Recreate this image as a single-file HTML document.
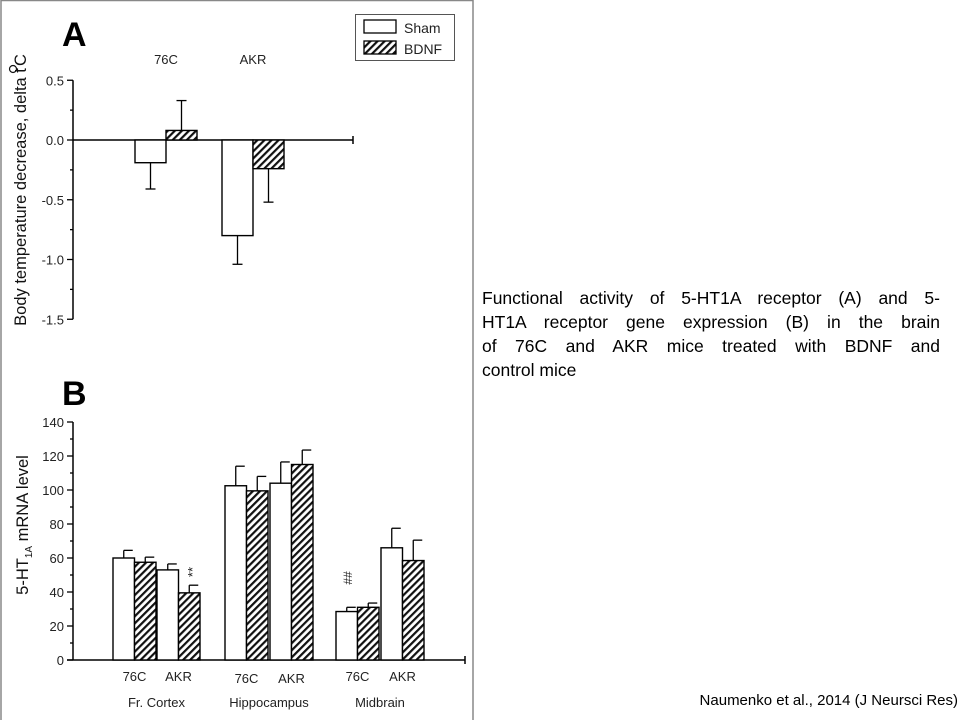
<!DOCTYPE html>
<html><head><meta charset="utf-8">
<style>
body{margin:0;width:960px;height:720px;background:#fff;overflow:hidden;font-family:"Liberation Sans",Arial,sans-serif;position:relative}
.cap{position:absolute;left:482px;width:458px;font-size:17.5px;line-height:24px;color:#000}
.cap div{text-align:justify;text-align-last:justify;white-space:nowrap}
.cap div.last{text-align-last:left}
.cite{position:absolute;right:2px;top:692px;font-size:15px;color:#000}
</style></head><body>
<svg width="960" height="720" style="position:absolute;left:0;top:0" font-family="Liberation Sans, Arial, sans-serif">
<defs>
<pattern id="hatch" patternUnits="userSpaceOnUse" width="5" height="5" patternTransform="rotate(45)">
<rect width="5" height="5" fill="#fff"/><rect width="2.2" height="5" fill="#111"/>
</pattern>
</defs>
<rect x="1" y="0.5" width="472" height="730" fill="none" stroke="#888" stroke-width="1.5"/>
<g id="chartA"></g>
<g id="chartB"></g>
</svg>
<div class="cap" style="top:286px">
<div>Functional activity of 5-HT1A receptor (A) and 5-</div>
<div>HT1A receptor gene expression (B) in the brain</div>
<div>of 76C and AKR mice treated with BDNF and</div>
<div class="last">control mice</div>
</div>
<div class="cite">Naumenko et al., 2014 (J Neursci Res)</div>
<script>
// Chart A data
const aCategories = ["76C", "AKR"];
const aSham = [-0.19, -0.80];
const aShamErr = [0.22, 0.24];
const aBdnf = [0.08, -0.24];
const aBdnfErr = [0.25, 0.28];
const aTicks = [0.5, 0.0, -0.5, -1.0, -1.5];
const aTickLabels = ["0.5", "0.0", "-0.5", "-1.0", "-1.5"];
// Chart B data
const bStrains = ["76C", "AKR", "76C", "AKR", "76C", "AKR"];
const bRegions = ["Fr. Cortex", "Hippocampus", "Midbrain"];
const bSham = [60, 53, 102.5, 104, 28.5, 66];
const bShamErr = [4.5, 3.5, 11.5, 12.5, 2.5, 11.5];
const bBdnf = [57.5, 39.5, 99.5, 115, 31, 58.5];
const bBdnfErr = [3, 4.5, 8.5, 8.5, 2.5, 12];
const bTicks = [0, 20, 40, 60, 80, 100, 120, 140];

const NS = "http://www.w3.org/2000/svg";
function mk(parent, tag, attrs, text){
  const e = document.createElementNS(NS, tag);
  for (const k in attrs) e.setAttribute(k, attrs[k]);
  if (text !== undefined) e.textContent = text;
  parent.appendChild(e); return e;
}
// ---- Chart A ----
(function(){
  const g = document.getElementById("chartA");
  const yA = v => 140 - v * 119.5;
  const x0 = 73;
  let t = mk(g, "text", {x:62, y:46, "font-size":34, "font-weight":"bold"}, "A");
  
  
  // axes
  let ax = mk(g, "line", {x1:x0, y1:yA(0.5), x2:x0, y2:yA(-1.5), stroke:"#000", "stroke-width":1.5});
  
  
  let xx = mk(g, "line", {x1:x0, y1:yA(0), x2:353, y2:yA(0), stroke:"#000", "stroke-width":1.5});
  
  
  mk(g, "line", {x1:353, y1:yA(0)-4, x2:353, y2:yA(0)+4, stroke:"#000", "stroke-width":1.5});
  for (let v = 0.5; v >= -1.5001; v -= 0.25) {
    const major = Math.abs(Math.round(v*2) - v*2) < 1e-6;
    mk(g, "line", {x1:x0-(major?6:3), y1:yA(v), x2:x0, y2:yA(v), stroke:"#000", "stroke-width":1.3});
  }
  aTicks.forEach((v,i)=>{
    const l = mk(g, "text", {x:x0-9, y:yA(v)+5, "font-size":13, "text-anchor":"end", fill:"#222"}, aTickLabels[i]);
    
    
  });
  const yt = mk(g, "text", {x:0, y:0, "font-size":16.5, "text-anchor":"middle", fill:"#111", transform:"translate(26,197) rotate(-90)"}, "Body temperature decrease, delta t");
  
  
  mk(g, "text", {x:0, y:0, "font-size":16.5, "text-anchor":"middle", fill:"#111", transform:"translate(26,60) rotate(-90)"}, "C");
  mk(g, "circle", {cx:13, cy:69, r:3.5, fill:"none", stroke:"#111", "stroke-width":1.2});
  const groupX = [135, 222];
  const bw = 31;
  aCategories.forEach((c,i)=>{
    const gx = groupX[i];
    const lab = mk(g, "text", {x:gx+bw, y:64, "font-size":13, "text-anchor":"middle", fill:"#222"}, c);
    
    
    [[aSham[i], aShamErr[i], "#fff", gx, "sham"], [aBdnf[i], aBdnfErr[i], "url(#hatch)", gx+bw, "bdnf"]].forEach(([v,e,f,x,nm])=>{
      const top = Math.min(yA(v), yA(0)), h = Math.abs(yA(v)-yA(0));
      const b = mk(g, "rect", {x:x, y:top, width:bw, height:h, fill:f, stroke:"#000", "stroke-width":1.4});
      
      
      const ye = yA(v + (v >= 0 ? e : -e));
      const cx = x + bw/2;
      mk(g, "line", {x1:cx, y1:yA(v), x2:cx, y2:ye, stroke:"#000", "stroke-width":1.3});
      mk(g, "line", {x1:cx-5, y1:ye, x2:cx+5, y2:ye, stroke:"#000", "stroke-width":1.3});
    });
  });
  // legend
  const lg = mk(g, "g", {});
  
  
  mk(lg, "rect", {x:355.5, y:14.5, width:99, height:46, fill:"#fff", stroke:"#555", "stroke-width":1});
  mk(lg, "rect", {x:364, y:20, width:32, height:13, fill:"#fff", stroke:"#000", "stroke-width":1.3});
  mk(lg, "rect", {x:364, y:41, width:32, height:13, fill:"url(#hatch)", stroke:"#000", "stroke-width":1.3});
  mk(lg, "text", {x:404, y:33, "font-size":14, fill:"#222"}, "Sham");
  mk(lg, "text", {x:404, y:54, "font-size":14, fill:"#222"}, "BDNF");
})();
// ---- Chart B ----
(function(){
  const g = document.getElementById("chartB");
  const yB = v => 660 - v * 1.7;
  const x0 = 73;
  let t = mk(g, "text", {x:62, y:405, "font-size":34, "font-weight":"bold"}, "B");
  
  
  let ax = mk(g, "line", {x1:x0, y1:yB(0), x2:x0, y2:yB(140), stroke:"#000", "stroke-width":1.5});
  
  
  let xx = mk(g, "line", {x1:x0-6, y1:yB(0), x2:465, y2:yB(0), stroke:"#000", "stroke-width":1.5});
  
  
  mk(g, "line", {x1:465, y1:yB(0)-4, x2:465, y2:yB(0)+4, stroke:"#000", "stroke-width":1.5});
  for (let v = 0; v <= 140; v += 10) {
    const major = v % 20 === 0;
    mk(g, "line", {x1:x0-(major?6:3), y1:yB(v), x2:x0, y2:yB(v), stroke:"#000", "stroke-width":1.3});
  }
  bTicks.forEach(v=>{
    const l = mk(g, "text", {x:x0-9, y:yB(v)+5, "font-size":13, "text-anchor":"end", fill:"#222"}, String(v));
    
    
  });
  const yt = mk(g, "text", {x:0, y:0, "font-size":16.5, "text-anchor":"middle", fill:"#111", transform:"translate(28,525) rotate(-90)"});
  
  
  yt.innerHTML = '5-HT<tspan font-size="10" dy="4">1A</tspan><tspan dy="-4"> mRNA level</tspan>';
  const pairX = [113, 157, 225, 270, 336, 381];
  const bw = 21.5;
  bStrains.forEach((s,i)=>{
    const px = pairX[i];
    const lab = mk(g, "text", {x:px+bw, y:[681,681,683,683,681,681][i], "font-size":13, "text-anchor":"middle", fill:"#222"}, s);
    
    
    [[bSham[i], bShamErr[i], "#fff", px, "sham"], [bBdnf[i], bBdnfErr[i], "url(#hatch)", px+bw, "bdnf"]].forEach(([v,e,f,x,nm])=>{
      const b = mk(g, "rect", {x:x, y:yB(v), width:bw, height:yB(0)-yB(v), fill:f, stroke:"#000", "stroke-width":1.4});
      
      
      const cx = x + bw/2, ye = yB(v+e);
      mk(g, "line", {x1:cx, y1:yB(v), x2:cx, y2:ye, stroke:"#000", "stroke-width":1.3});
      mk(g, "line", {x1:cx, y1:ye, x2:cx+9, y2:ye, stroke:"#000", "stroke-width":1.3});
    });
  });
  bRegions.forEach((r,i)=>{
    const cx = (pairX[i*2] + pairX[i*2+1] + 2*bw) / 2;
    const l = mk(g, "text", {x:cx, y:707, "font-size":13, "text-anchor":"middle", fill:"#222"}, r);
    
    
  });
  const s1 = mk(g, "text", {x:0, y:0, "font-size":13, "text-anchor":"middle", fill:"#222", transform:"translate(197,572) rotate(-90)"}, "**");
  
  
  const s2 = mk(g, "text", {x:0, y:0, "font-size":12, "text-anchor":"middle", fill:"#222", transform:"translate(352,578) rotate(-90)"}, "##");
  
  
})();
</script>
</body></html>
